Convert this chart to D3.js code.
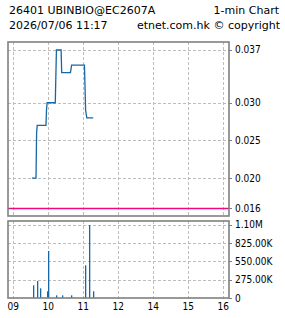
<!DOCTYPE html>
<html>
<head>
<meta charset="utf-8">
<script src="https://cdn.jsdelivr.net/npm/d3@7"></script>
<style>
  html, body { margin: 0; padding: 0; background: #fff; }
  svg { display: block; }
  .title { font-family: "DejaVu Sans", sans-serif; font-size: 11px; fill: #000; }
  .axis-label { font-family: "Liberation Sans Narrow", "DejaVu Sans Condensed", sans-serif; font-size: 10px; fill: #000; }
</style>
</head>
<body>
<div id="chart"></div>
<script>
/* global d3 */

// ── Data ───────────────────────────────────────────────────────
const priceTimes = ['09:32', '09:39', '09:40', '09:41', '09:56', '09:57', '09:58', '10:12',
  '10:14', '10:22', '10:23', '10:38', '10:40', '11:02', '11:04', '11:06', '11:17'];
const priceValues = [0.020, 0.020, 0.026, 0.027, 0.027, 0.029, 0.030, 0.030,
  0.037, 0.037, 0.034, 0.034, 0.035, 0.035, 0.029, 0.028, 0.028];

const volTimes = ['09:33', '09:41', '09:45', '09:57', '10:00', '10:14', '10:24', '10:39',
  '11:03', '11:09', '11:17'];
const volValues = [190000, 255000, 145000, 100000, 705000, 40000, 40000, 40000,
  490000, 1095000, 100000];

const prevClose = 0.016;

const priceTicks = [0.037, 0.030, 0.025, 0.020, 0.016];
const priceTickLabels = ['0.037', '0.030', '0.025', '0.020', '0.016'];
const volTicks = [1100000, 825000, 550000, 275000, 0];
const volTickLabels = ['1.10M', '825.00K', '550.00K', '275.00K', '0'];
const hourTicks = ['09:00', '10:00', '11:00', '12:00', '14:00', '15:00', '16:00'];
const hourLabels = ['09', '10', '11', '12', '14', '15', '16'];

const titleLeft = ['26401 UBINBIO@EC2607A', '2026/07/06 11:17'];
const titleRight = ['1-min Chart', 'etnet.com.hk \u00a9 copyright'];

// ── Layout ─────────────────────────────────────────────────────
const W = 285;
const H = 318;
const LEFT = 8;
const RIGHT = 229;
const MAIN_TOP = 42;
const MAIN_BOTTOM = 216;
const VOL_TOP = 221;
const VOL_BOTTOM = 298;

const COLOR_LINE = '#1667a5';
const COLOR_PREV = '#f0087f';
const COLOR_FRAME = '#808080';
const COLOR_GRID = '#bdbdbd';

function toMin(t) {
  const [h, m] = t.split(':').map(Number);
  return h * 60 + m;
}

// Lunch break (12:00–13:00) is collapsed to a single x position.
const x = d3.scaleLinear()
  .domain([toMin('08:51'), toMin('12:00'), toMin('13:00'), toMin('16:10')])
  .range([LEFT, 118.3, 118.3, RIGHT]);

const yPrice = d3.scaleLinear()
  .domain([0.01498, 0.03806])
  .range([MAIN_BOTTOM, MAIN_TOP]);

const yVol = d3.scaleLinear()
  .domain([0, 1155000])
  .range([VOL_BOTTOM, VOL_TOP]);

const svg = d3.select('#chart')
  .append('svg')
  .attr('width', W)
  .attr('height', H);

// ── Header ─────────────────────────────────────────────────────
titleLeft.forEach((t, i) => {
  svg.append('text').attr('class', 'title')
    .attr('x', 9).attr('y', 14 + i * 15)
    .text(t);
});
titleRight.forEach((t, i) => {
  svg.append('text').attr('class', 'title')
    .attr('x', i === 0 ? 279 : 280).attr('y', 14 + i * 15)
    .attr('text-anchor', 'end')
    .text(t);
});

// ── Grids ──────────────────────────────────────────────────────
function vGrid(top, bottom) {
  svg.append('g')
    .selectAll('line')
    .data(hourTicks)
    .join('line')
    .attr('x1', (d) => Math.round(x(toMin(d))) + 0.5)
    .attr('x2', (d) => Math.round(x(toMin(d))) + 0.5)
    .attr('y1', top)
    .attr('y2', bottom)
    .attr('stroke', COLOR_GRID)
    .attr('stroke-dasharray', '3,2');
}
vGrid(MAIN_TOP, MAIN_BOTTOM);
vGrid(VOL_TOP, VOL_BOTTOM + 3);

svg.append('g')
  .selectAll('line')
  .data(priceTicks.filter((d) => d !== prevClose))
  .join('line')
  .attr('x1', LEFT).attr('x2', RIGHT)
  .attr('y1', (d) => Math.round(yPrice(d)) + 0.5)
  .attr('y2', (d) => Math.round(yPrice(d)) + 0.5)
  .attr('stroke', COLOR_GRID)
  .attr('stroke-dasharray', '3,2');

svg.append('g')
  .selectAll('line')
  .data(volTicks.filter((d) => d > 0))
  .join('line')
  .attr('x1', LEFT).attr('x2', RIGHT)
  .attr('y1', (d) => Math.round(yVol(d)) + 0.5)
  .attr('y2', (d) => Math.round(yVol(d)) + 0.5)
  .attr('stroke', COLOR_GRID)
  .attr('stroke-dasharray', '3,2');

// Previous close
svg.append('line')
  .attr('x1', LEFT).attr('x2', RIGHT)
  .attr('y1', Math.round(yPrice(prevClose)) + 0.5)
  .attr('y2', Math.round(yPrice(prevClose)) + 0.5)
  .attr('stroke', COLOR_PREV)
  .attr('stroke-width', 1.3);

// ── Price line ─────────────────────────────────────────────────
const pricePts = priceTimes.map((t, i) => [toMin(t), priceValues[i]]);
svg.append('path')
  .datum(pricePts)
  .attr('fill', 'none')
  .attr('stroke', COLOR_LINE)
  .attr('stroke-width', 1.3)
  .attr('d', d3.line()
    .x((d) => x(d[0]))
    .y((d) => yPrice(d[1])));

// ── Volume bars ────────────────────────────────────────────────
svg.append('g')
  .selectAll('rect')
  .data(volTimes.map((t, i) => ({ t: toMin(t), v: volValues[i] })))
  .join('rect')
  .attr('x', (d) => Math.round(x(d.t)))
  .attr('width', 1.3)
  .attr('y', (d) => yVol(d.v))
  .attr('height', (d) => VOL_BOTTOM - yVol(d.v))
  .attr('fill', COLOR_LINE);

// ── Frames ─────────────────────────────────────────────────────
[[MAIN_TOP, MAIN_BOTTOM], [VOL_TOP, VOL_BOTTOM]].forEach(([t, b]) => {
  svg.append('rect')
    .attr('x', LEFT).attr('y', t)
    .attr('width', RIGHT - LEFT).attr('height', b - t)
    .attr('fill', 'none')
    .attr('stroke', COLOR_FRAME)
    .attr('stroke-width', 1.6);
});

// ── Right axes ─────────────────────────────────────────────────
function rightAxis(scale, ticks, labels) {
  const g = svg.append('g');
  g.selectAll('line')
    .data(ticks)
    .join('line')
    .attr('x1', RIGHT).attr('x2', RIGHT + 3)
    .attr('y1', (d) => Math.round(scale(d)) + 0.5)
    .attr('y2', (d) => Math.round(scale(d)) + 0.5)
    .attr('stroke', COLOR_FRAME);
  g.selectAll('text')
    .data(ticks)
    .join('text')
    .attr('class', 'axis-label')
    .attr('x', RIGHT + 6)
    .attr('y', (d) => scale(d) + 3.5)
    .text((d, i) => labels[i]);
}
rightAxis(yPrice, priceTicks, priceTickLabels);
rightAxis(yVol, volTicks, volTickLabels);

// ── Bottom time labels ─────────────────────────────────────────
svg.append('g')
  .selectAll('text')
  .data(hourTicks)
  .join('text')
  .attr('class', 'axis-label')
  .attr('x', (d) => x(toMin(d)))
  .attr('y', 310)
  .attr('text-anchor', 'middle')
  .text((d, i) => hourLabels[i]);
</script>
</body>
</html>
